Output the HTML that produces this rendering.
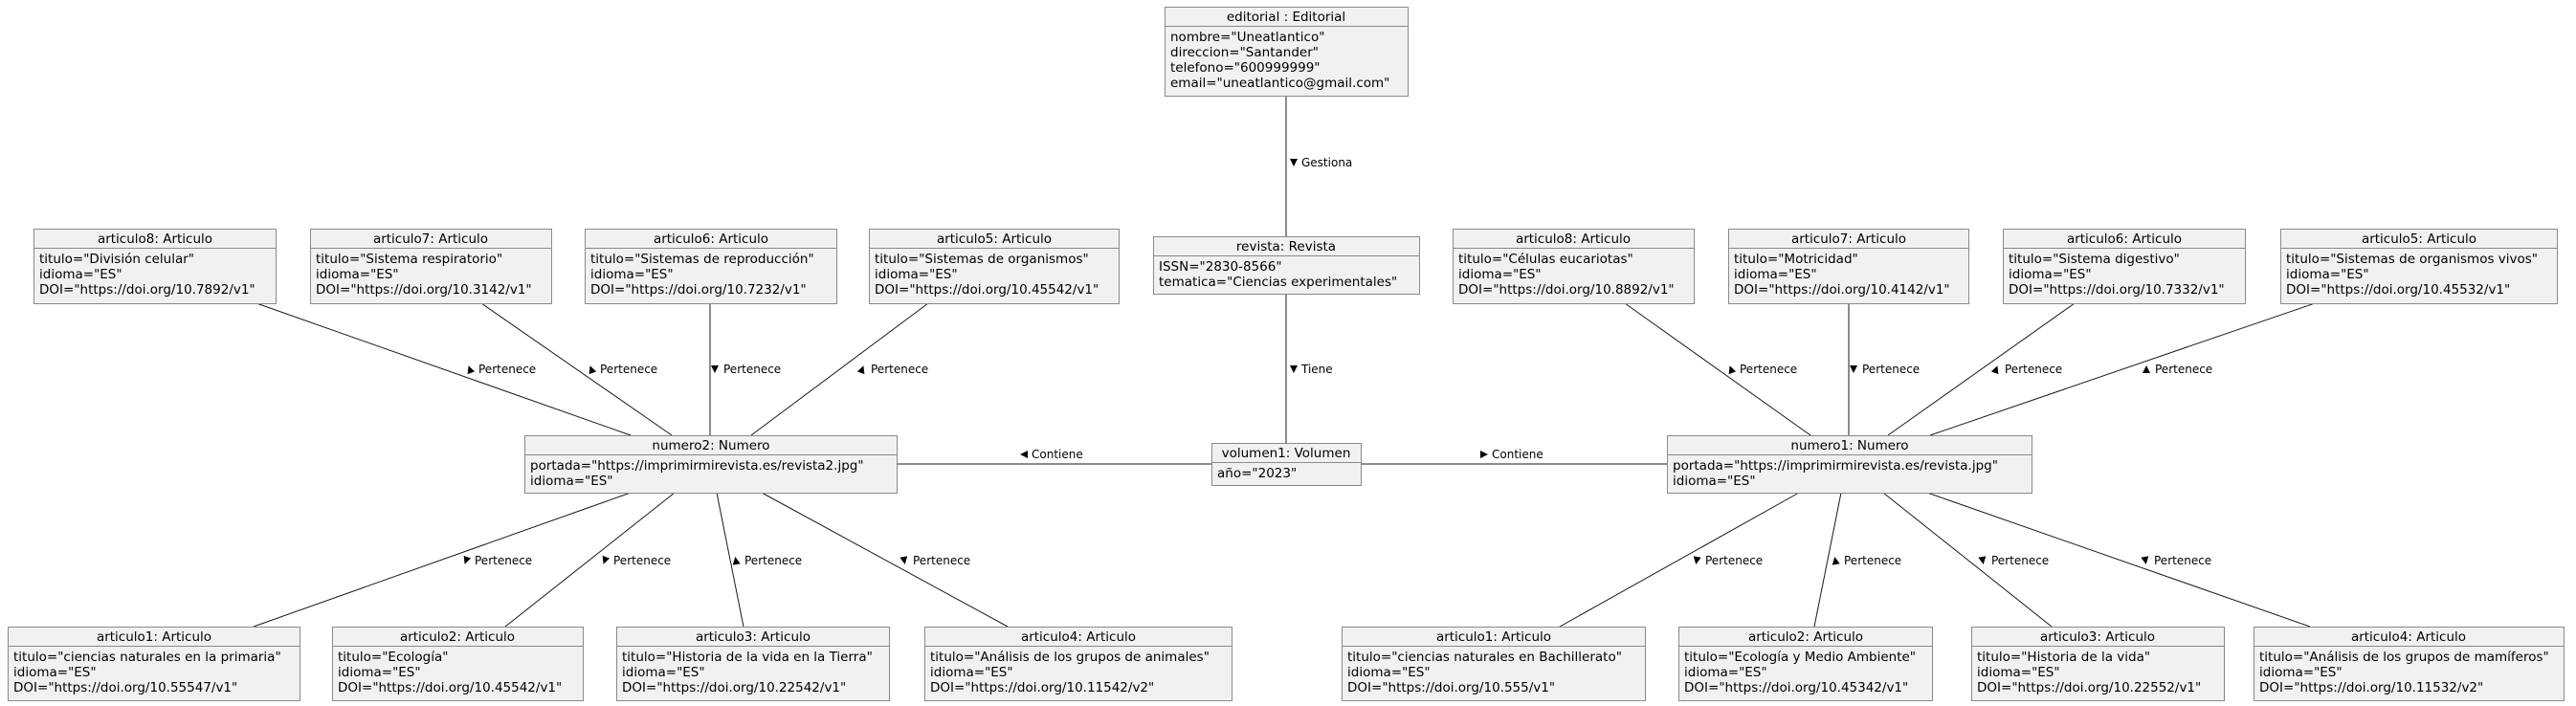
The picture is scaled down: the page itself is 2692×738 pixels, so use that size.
<!DOCTYPE html>
<html><head><meta charset="utf-8"><style>
html,body{margin:0;padding:0;background:#fff}
svg{display:block}
text{font-family:"DejaVu Sans","Liberation Sans",sans-serif;fill:#000}
.h{font-size:13.5px;text-anchor:middle}
.a{font-size:13.5px}
.l{font-size:12px}
rect{fill:#F1F1F1;stroke:#8a8a8a;stroke-width:1}
.sep{stroke:#8a8a8a;stroke-width:1}
.ln{stroke:#181818;stroke-width:1;fill:none}
.tri{fill:#000}
</style></head><body>
<svg width="2692" height="738" viewBox="0 0 2692 738" xmlns="http://www.w3.org/2000/svg">
<g class="ln">
<line x1="1344" y1="100" x2="1344" y2="247"/>
<line x1="1344" y1="307" x2="1344" y2="463"/>
<line x1="937" y1="485" x2="1266" y2="485"/>
<line x1="1422" y1="485" x2="1742" y2="485"/>
<line x1="268" y1="317" x2="659" y2="455"/>
<line x1="503" y1="317" x2="702" y2="455"/>
<line x1="742" y1="317" x2="742" y2="455"/>
<line x1="970" y1="317" x2="785" y2="455"/>
<line x1="659" y1="515" x2="265" y2="655"/>
<line x1="705" y1="515" x2="528" y2="655"/>
<line x1="749" y1="515" x2="777" y2="655"/>
<line x1="796" y1="515" x2="1053" y2="655"/>
<line x1="1698" y1="317" x2="1892" y2="455"/>
<line x1="1932" y1="317" x2="1932" y2="455"/>
<line x1="2168" y1="317" x2="1973" y2="455"/>
<line x1="2419" y1="317" x2="2017" y2="455"/>
<line x1="1880" y1="515" x2="1630" y2="655"/>
<line x1="1924" y1="515" x2="1896" y2="655"/>
<line x1="1968" y1="515" x2="2144" y2="655"/>
<line x1="2014" y1="515" x2="2414" y2="655"/>
</g>
<g>
<polygon class="tri" points="-4,-4 4,0 -4,4" transform="translate(1352,170) rotate(90)"/><text class="l" x="1360" y="174">Gestiona</text>
<polygon class="tri" points="-4,-4 4,0 -4,4" transform="translate(1352,386) rotate(90)"/><text class="l" x="1360" y="390">Tiene</text>
<polygon class="tri" points="-4,-4 4,0 -4,4" transform="translate(1070,475) rotate(180)"/><text class="l" x="1078" y="479">Contiene</text>
<polygon class="tri" points="-4,-4 4,0 -4,4" transform="translate(1551,475) rotate(0)"/><text class="l" x="1559" y="479">Contiene</text>

<polygon class="tri" points="-4,-4 4,0 -4,4" transform="translate(491,386) rotate(-110)"/><text class="l" x="500" y="390">Pertenece</text>
<polygon class="tri" points="-4,-4 4,0 -4,4" transform="translate(618,386) rotate(-110)"/><text class="l" x="627" y="390">Pertenece</text>
<polygon class="tri" points="-4,-4 4,0 -4,4" transform="translate(747,386) rotate(90)"/><text class="l" x="756" y="390">Pertenece</text>
<polygon class="tri" points="-4,-4 4,0 -4,4" transform="translate(901,386) rotate(-70)"/><text class="l" x="910" y="390">Pertenece</text>

<polygon class="tri" points="-4,-4 4,0 -4,4" transform="translate(487,586) rotate(110)"/><text class="l" x="496" y="590">Pertenece</text>
<polygon class="tri" points="-4,-4 4,0 -4,4" transform="translate(632,586) rotate(110)"/><text class="l" x="641" y="590">Pertenece</text>
<polygon class="tri" points="-4,-4 4,0 -4,4" transform="translate(769,586) rotate(-100)"/><text class="l" x="778" y="590">Pertenece</text>
<polygon class="tri" points="-4,-4 4,0 -4,4" transform="translate(945,586) rotate(80)"/><text class="l" x="954" y="590">Pertenece</text>

<polygon class="tri" points="-4,-4 4,0 -4,4" transform="translate(1809,386) rotate(-110)"/><text class="l" x="1818" y="390">Pertenece</text>
<polygon class="tri" points="-4,-4 4,0 -4,4" transform="translate(1937,386) rotate(90)"/><text class="l" x="1946" y="390">Pertenece</text>
<polygon class="tri" points="-4,-4 4,0 -4,4" transform="translate(2086,386) rotate(-70)"/><text class="l" x="2095" y="390">Pertenece</text>
<polygon class="tri" points="-4,-4 4,0 -4,4" transform="translate(2243,386) rotate(-90)"/><text class="l" x="2252" y="390">Pertenece</text>

<polygon class="tri" points="-4,-4 4,0 -4,4" transform="translate(1773,586) rotate(100)"/><text class="l" x="1782" y="590">Pertenece</text>
<polygon class="tri" points="-4,-4 4,0 -4,4" transform="translate(1918,586) rotate(-100)"/><text class="l" x="1927" y="590">Pertenece</text>
<polygon class="tri" points="-4,-4 4,0 -4,4" transform="translate(2072,586) rotate(80)"/><text class="l" x="2081" y="590">Pertenece</text>
<polygon class="tri" points="-4,-4 4,0 -4,4" transform="translate(2242,586) rotate(80)"/><text class="l" x="2251" y="590">Pertenece</text>
</g>

<rect x="1217.5" y="7.5" width="254" height="93"/><line class="sep" x1="1217.5" y1="27.5" x2="1471.5" y2="27.5"/>
<text class="h" x="1344" y="22">editorial : Editorial</text>
<text class="a" x="1223" y="43">nombre="Uneatlantico"</text>
<text class="a" x="1223" y="59">direccion="Santander"</text>
<text class="a" x="1223" y="75">telefono="600999999"</text>
<text class="a" x="1223" y="91">email="uneatlantico@gmail.com"</text>

<rect x="1205.5" y="247.5" width="278" height="60"/><line class="sep" x1="1205.5" y1="267.5" x2="1483.5" y2="267.5"/>
<text class="h" x="1344" y="262">revista: Revista</text>
<text class="a" x="1211" y="283">ISSN="2830-8566"</text>
<text class="a" x="1211" y="299">tematica="Ciencias experimentales"</text>

<rect x="1266.5" y="463.5" width="156" height="44"/><line class="sep" x1="1266.5" y1="483.5" x2="1422.5" y2="483.5"/>
<text class="h" x="1344" y="478">volumen1: Volumen</text>
<text class="a" x="1272" y="499">año="2023"</text>

<rect x="548.5" y="455.5" width="389" height="60"/><line class="sep" x1="548.5" y1="475.5" x2="937.5" y2="475.5"/>
<text class="h" x="743" y="470">numero2: Numero</text>
<text class="a" x="554" y="491">portada="https://imprimirmirevista.es/revista2.jpg"</text>
<text class="a" x="554" y="507">idioma="ES"</text>

<rect x="1742.5" y="455.5" width="381" height="60"/><line class="sep" x1="1742.5" y1="475.5" x2="2123.5" y2="475.5"/>
<text class="h" x="1933" y="470">numero1: Numero</text>
<text class="a" x="1748" y="491">portada="https://imprimirmirevista.es/revista.jpg"</text>
<text class="a" x="1748" y="507">idioma="ES"</text>

<g>
<rect x="35.5" y="239.5" width="253" height="78"/><line class="sep" x1="35.5" y1="259.5" x2="288.5" y2="259.5"/>
<text class="h" x="162" y="254">articulo8: Articulo</text>
<text class="a" x="41" y="275">titulo="División celular"</text><text class="a" x="41" y="291">idioma="ES"</text><text class="a" x="41" y="307">DOI="https://doi.org/10.7892/v1"</text>

<rect x="324.5" y="239.5" width="252" height="78"/><line class="sep" x1="324.5" y1="259.5" x2="576.5" y2="259.5"/>
<text class="h" x="450" y="254">articulo7: Articulo</text>
<text class="a" x="330" y="275">titulo="Sistema respiratorio"</text><text class="a" x="330" y="291">idioma="ES"</text><text class="a" x="330" y="307">DOI="https://doi.org/10.3142/v1"</text>

<rect x="611.5" y="239.5" width="263" height="78"/><line class="sep" x1="611.5" y1="259.5" x2="874.5" y2="259.5"/>
<text class="h" x="743" y="254">articulo6: Articulo</text>
<text class="a" x="617" y="275">titulo="Sistemas de reproducción"</text><text class="a" x="617" y="291">idioma="ES"</text><text class="a" x="617" y="307">DOI="https://doi.org/10.7232/v1"</text>

<rect x="908.5" y="239.5" width="261" height="78"/><line class="sep" x1="908.5" y1="259.5" x2="1169.5" y2="259.5"/>
<text class="h" x="1039" y="254">articulo5: Articulo</text>
<text class="a" x="914" y="275">titulo="Sistemas de organismos"</text><text class="a" x="914" y="291">idioma="ES"</text><text class="a" x="914" y="307">DOI="https://doi.org/10.45542/v1"</text>
</g>

<g>
<rect x="1518.5" y="239.5" width="252" height="78"/><line class="sep" x1="1518.5" y1="259.5" x2="1770.5" y2="259.5"/>
<text class="h" x="1644" y="254">articulo8: Articulo</text>
<text class="a" x="1524" y="275">titulo="Células eucariotas"</text><text class="a" x="1524" y="291">idioma="ES"</text><text class="a" x="1524" y="307">DOI="https://doi.org/10.8892/v1"</text>

<rect x="1806.5" y="239.5" width="251" height="78"/><line class="sep" x1="1806.5" y1="259.5" x2="2057.5" y2="259.5"/>
<text class="h" x="1932" y="254">articulo7: Articulo</text>
<text class="a" x="1812" y="275">titulo="Motricidad"</text><text class="a" x="1812" y="291">idioma="ES"</text><text class="a" x="1812" y="307">DOI="https://doi.org/10.4142/v1"</text>

<rect x="2093.5" y="239.5" width="253" height="78"/><line class="sep" x1="2093.5" y1="259.5" x2="2346.5" y2="259.5"/>
<text class="h" x="2220" y="254">articulo6: Articulo</text>
<text class="a" x="2099" y="275">titulo="Sistema digestivo"</text><text class="a" x="2099" y="291">idioma="ES"</text><text class="a" x="2099" y="307">DOI="https://doi.org/10.7332/v1"</text>

<rect x="2383.5" y="239.5" width="289" height="78"/><line class="sep" x1="2383.5" y1="259.5" x2="2672.5" y2="259.5"/>
<text class="h" x="2528" y="254">articulo5: Articulo</text>
<text class="a" x="2389" y="275">titulo="Sistemas de organismos vivos"</text><text class="a" x="2389" y="291">idioma="ES"</text><text class="a" x="2389" y="307">DOI="https://doi.org/10.45532/v1"</text>
</g>

<g>
<rect x="8.5" y="655.5" width="305" height="77"/><line class="sep" x1="8.5" y1="675.5" x2="313.5" y2="675.5"/>
<text class="h" x="161" y="670">articulo1: Articulo</text>
<text class="a" x="14" y="691">titulo="ciencias naturales en la primaria"</text><text class="a" x="14" y="707">idioma="ES"</text><text class="a" x="14" y="723">DOI="https://doi.org/10.55547/v1"</text>

<rect x="347.5" y="655.5" width="262" height="77"/><line class="sep" x1="347.5" y1="675.5" x2="609.5" y2="675.5"/>
<text class="h" x="478" y="670">articulo2: Articulo</text>
<text class="a" x="353" y="691">titulo="Ecología"</text><text class="a" x="353" y="707">idioma="ES"</text><text class="a" x="353" y="723">DOI="https://doi.org/10.45542/v1"</text>

<rect x="644.5" y="655.5" width="285" height="77"/><line class="sep" x1="644.5" y1="675.5" x2="929.5" y2="675.5"/>
<text class="h" x="787" y="670">articulo3: Articulo</text>
<text class="a" x="650" y="691">titulo="Historia de la vida en la Tierra"</text><text class="a" x="650" y="707">idioma="ES"</text><text class="a" x="650" y="723">DOI="https://doi.org/10.22542/v1"</text>

<rect x="966.5" y="655.5" width="321" height="77"/><line class="sep" x1="966.5" y1="675.5" x2="1287.5" y2="675.5"/>
<text class="h" x="1127" y="670">articulo4: Articulo</text>
<text class="a" x="972" y="691">titulo="Análisis de los grupos de animales"</text><text class="a" x="972" y="707">idioma="ES"</text><text class="a" x="972" y="723">DOI="https://doi.org/10.11542/v2"</text>
</g>

<g>
<rect x="1402.5" y="655.5" width="317" height="77"/><line class="sep" x1="1402.5" y1="675.5" x2="1719.5" y2="675.5"/>
<text class="h" x="1561" y="670">articulo1: Articulo</text>
<text class="a" x="1408" y="691">titulo="ciencias naturales en Bachillerato"</text><text class="a" x="1408" y="707">idioma="ES"</text><text class="a" x="1408" y="723">DOI="https://doi.org/10.555/v1"</text>

<rect x="1754.5" y="655.5" width="265" height="77"/><line class="sep" x1="1754.5" y1="675.5" x2="2019.5" y2="675.5"/>
<text class="h" x="1887" y="670">articulo2: Articulo</text>
<text class="a" x="1760" y="691">titulo="Ecología y Medio Ambiente"</text><text class="a" x="1760" y="707">idioma="ES"</text><text class="a" x="1760" y="723">DOI="https://doi.org/10.45342/v1"</text>

<rect x="2060.5" y="655.5" width="264" height="77"/><line class="sep" x1="2060.5" y1="675.5" x2="2324.5" y2="675.5"/>
<text class="h" x="2192" y="670">articulo3: Articulo</text>
<text class="a" x="2066" y="691">titulo="Historia de la vida"</text><text class="a" x="2066" y="707">idioma="ES"</text><text class="a" x="2066" y="723">DOI="https://doi.org/10.22552/v1"</text>

<rect x="2355.5" y="655.5" width="324" height="77"/><line class="sep" x1="2355.5" y1="675.5" x2="2679.5" y2="675.5"/>
<text class="h" x="2517" y="670">articulo4: Articulo</text>
<text class="a" x="2361" y="691">titulo="Análisis de los grupos de mamíferos"</text><text class="a" x="2361" y="707">idioma="ES"</text><text class="a" x="2361" y="723">DOI="https://doi.org/10.11532/v2"</text>
</g>
</svg>
</body></html>
